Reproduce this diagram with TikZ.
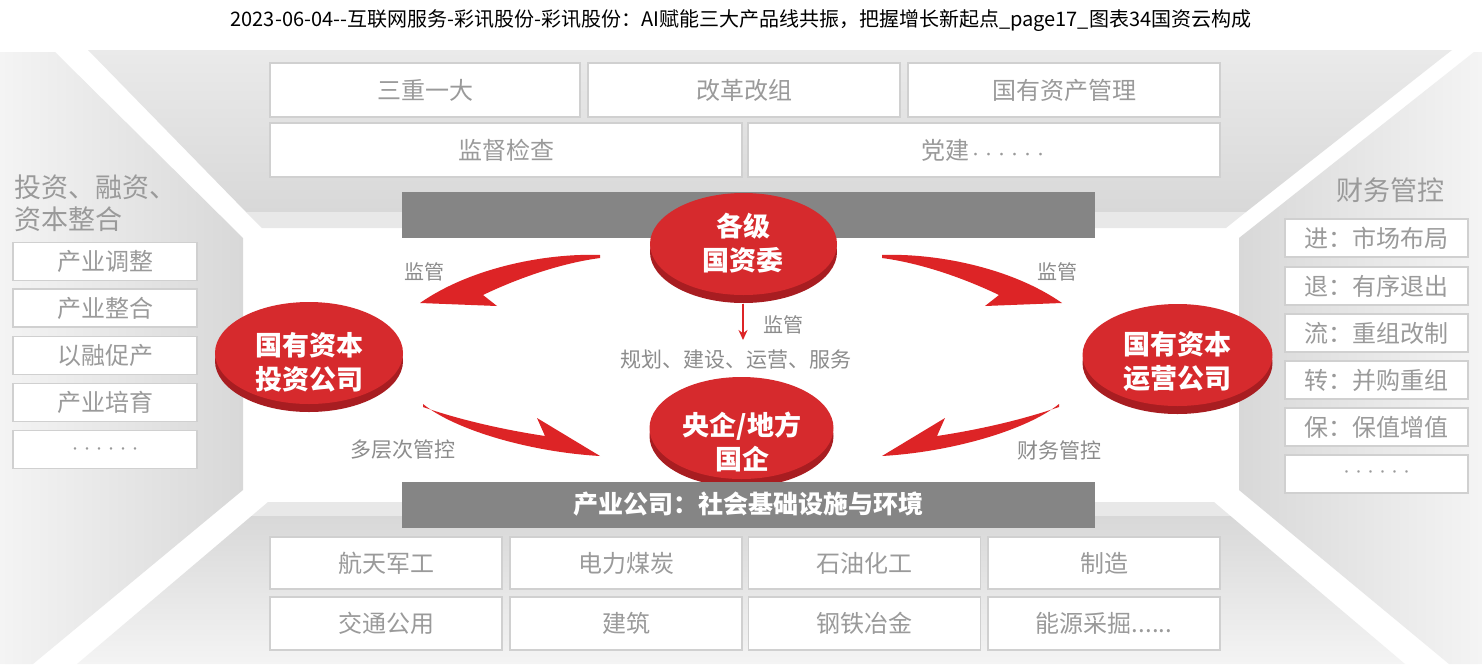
\documentclass[tikz,border=0pt]{standalone}
\usepackage{fontspec}
\setmainfont{Noto Sans CJK SC}
\usetikzlibrary{shapes.geometric,arrows.meta}
\definecolor{boxline}{HTML}{D0D0D0}
\definecolor{boxtext}{HTML}{9A9A9A}
\definecolor{lbltext}{HTML}{8C8C8C}
\definecolor{barfill}{HTML}{858585}
\definecolor{facered}{HTML}{D62A2D}
\definecolor{sidered}{HTML}{A81D21}
\definecolor{arrowred}{HTML}{DD2426}
\definecolor{paneltop}{HTML}{EAEAEA}
\definecolor{panelmid}{HTML}{D8D8D8}
\definecolor{panellow}{HTML}{F4F4F4}
\definecolor{ledgecol}{HTML}{E8E8E8}
\begin{document}
\begin{tikzpicture}[x=1pt,y=-1pt,
  cellbox/.style={draw=boxline, line width=1.3pt, fill=white, inner sep=0pt, text=boxtext, font=\fontsize{24}{28}\selectfont},
  smallbox/.style={cellbox, minimum width=184pt, minimum height=38pt},
  rightbox/.style={cellbox, minimum width=183pt, minimum height=38pt},
  lowbox/.style={cellbox, minimum width=232pt, minimum height=52pt},
  bar/.style={fill=barfill, minimum width=693pt, minimum height=46pt, inner sep=0pt, text=white, font=\bfseries\fontsize{25}{28}\selectfont},
  disctext/.style={text=white, align=center, inner sep=0pt, font=\bfseries\fontsize{27}{34}\selectfont},
  lbl/.style={text=lbltext, inner sep=0pt, font=\fontsize{20}{24}\selectfont},
  paneltitle/.style={text=boxtext, inner sep=0pt, font=\fontsize{27}{32}\selectfont},
  swoosh/.style={fill=arrowred}
]
\path[use as bounding box, fill=white] (0,0) rectangle (1482,664);

% title
\node[font=\fontsize{20}{24}\selectfont, inner sep=0pt] (title) at (741,21)
  {2023-06-04-{}-互联网服务-彩讯股份-彩讯股份：AI赋能三大产品线共振，把握增长新起点\_page17\_图表34国资云构成};

% frame panels
\shade[top color=paneltop, bottom color=panelmid] (88,50) -- (1452,50) -- (1246,212) -- (246,212) -- cycle;
\fill[ledgecol] (246,212) -- (1246,212) -- (1226,228) -- (262,228) -- cycle;
\shade[left color=panellow, right color=panelmid] (0,52) -- (55,52) -- (243,238) -- (243,490) -- (33,664) -- (0,664) -- cycle;
\shade[left color=panelmid, right color=panellow] (1474,52) -- (1482,52) -- (1482,664) -- (1449,664) -- (1239,490) -- (1239,238) -- cycle;
\fill[ledgecol] (268,502) -- (1214,502) -- (1230.5,516) -- (251.5,516) -- cycle;
\shade[top color=panelmid, bottom color=panellow] (251.5,516) -- (1230.5,516) -- (1405,664) -- (77,664) -- cycle;

% top boxes
\node[cellbox, minimum width=310pt, minimum height=54pt] (t1) at (425,90) {三重一大};
\node[cellbox, minimum width=312pt, minimum height=54pt] (t2) at (744,90) {改革改组};
\node[cellbox, minimum width=312pt, minimum height=54pt] (t3) at (1064,90) {国有资产管理};
\node[cellbox, minimum width=472pt, minimum height=54pt] (t4) at (506,150) {监督检查};
\node[cellbox, minimum width=472pt, minimum height=54pt] (t5) at (984,150) {党建{\fontsize{13}{13}\selectfont ······}};

% left panel
\node[paneltitle, anchor=west, align=left] (ltitle) at (14,203) {投资、融资、\\资本整合};
\node[smallbox] (l1) at (105,261.5) {产业调整};
\node[smallbox] (l2) at (105,308) {产业整合};
\node[smallbox] (l3) at (105,355.5) {以融促产};
\node[smallbox] (l4) at (105,402.5) {产业培育};
\node[smallbox] (l5) at (105,449.5) {\raisebox{-7pt}{\fontsize{12}{12}\selectfont ······}};

% right panel
\node[paneltitle] (rtitle) at (1390,190) {财务管控};
\node[rightbox] (r1) at (1376.5,238) {进：市场布局};
\node[rightbox] (r2) at (1376.5,286) {退：有序退出};
\node[rightbox] (r3) at (1376.5,333) {流：重组改制};
\node[rightbox] (r4) at (1376.5,380) {转：并购重组};
\node[rightbox] (r5) at (1376.5,427) {保：保值增值};
\node[rightbox] (r6) at (1376.5,474) {{\fontsize{12}{12}\selectfont ······}};

% bottom boxes
\node[lowbox] (b1) at (386,563) {航天军工};
\node[lowbox] (b2) at (626,563) {电力煤炭};
\node[lowbox] (b3) at (864.5,563) {石油化工};
\node[lowbox] (b4) at (1104,563) {制造};
\node[lowbox, minimum height=53pt] (b5) at (386,623.5) {交通公用};
\node[lowbox, minimum height=53pt] (b6) at (626,623.5) {建筑};
\node[lowbox, minimum height=53pt] (b7) at (864.5,623.5) {钢铁冶金};
\node[lowbox, minimum height=53pt] (b8) at (1104,623.5) {能源采掘......};

% top bar
\node[bar] (topbar) at (748.5,215) {};

% swoosh arrows
\fill[swoosh] (600,255) .. controls (545,253) and (470,268) .. (420,303) -- (497,306) -- (483,295)
   .. controls (510,282) and (555,264) .. (600,258) -- cycle;
\fill[swoosh] (882,255) .. controls (937,253) and (1012,268) .. (1062,303) -- (985,306) -- (999,295)
   .. controls (972,282) and (927,264) .. (882,258) -- cycle;
\fill[swoosh] (423,404) .. controls (455,430) and (530,452) .. (600,456) -- (537,418) -- (545,436)
   .. controls (505,430) and (460,420) .. (423,407) -- cycle;
\fill[swoosh] (1059,404) .. controls (1027,430) and (952,452) .. (882,456) -- (945,418) -- (937,436)
   .. controls (977,430) and (1022,420) .. (1059,407) -- cycle;

% discs
\fill[sidered] (743.5,252) ellipse (93.5 and 51);
\fill[facered] (743.5,244) ellipse (93.5 and 51);
\node[disctext] (E1) at (743,243) {各级\\国资委};

\fill[sidered] (309,361) ellipse (94 and 51);
\fill[facered] (309,353) ellipse (94 and 51);
\node[disctext] (E3) at (309,362) {国有资本\\投资公司};

\fill[sidered] (1177.5,363) ellipse (95 and 51);
\fill[facered] (1177.5,355) ellipse (95 and 51);
\node[disctext] (E4) at (1177.5,361) {国有资本\\运营公司};

\fill[sidered] (741.5,436) ellipse (92 and 51);
\fill[facered] (741.5,428) ellipse (92 and 51);
\node[disctext] (E2) at (742,442) {央企/地方\\国企};

% bottom bar
\node[bar] (botbar) at (748.5,504.5) {产业公司：社会基础设施与环境};

% small arrow
\coordinate (e1bot) at (743,304);
\coordinate (e1tip) at (743,340);
\draw[arrowred, line width=2pt, -{Stealth[length=10pt,width=9pt]}] (e1bot) -- (e1tip);

% labels
\node[lbl] (m1) at (424,272) {监管};
\node[lbl] (m2) at (1057,272) {监管};
\node[lbl] (m3) at (783,325) {监管};
\node[lbl, font=\fontsize{21}{24}\selectfont] (plan) at (736,360) {规划、建设、运营、服务};
\node[lbl, font=\fontsize{21}{24}\selectfont] (m4) at (403,450) {多层次管控};
\node[lbl, font=\fontsize{21}{24}\selectfont] (m5) at (1059,450) {财务管控};
\end{tikzpicture}
\end{document}
